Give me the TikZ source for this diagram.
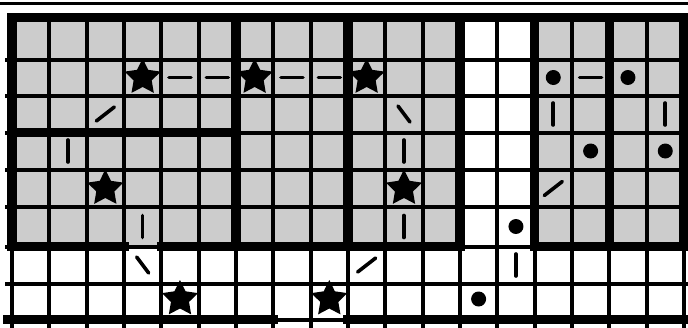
\documentclass[tikz,border=0pt]{standalone}
\usetikzlibrary{shapes.geometric}
\begin{document}
\begin{tikzpicture}[x=1pt,y=-1pt,
  thinline/.style={line width=4pt, line cap=rect},
  thickline/.style={line width=9.5pt, line cap=rect},
  shade/.style={fill=black!20},
  sym/.style={line width=3.6pt, line cap=round},
  starsym/.style={star, star points=5, star point ratio=2.0, fill=black, draw=none, minimum size=38pt, inner sep=0pt},
  dotsym/.style={circle, fill=black, draw=none, minimum size=15pt, inner sep=0pt}]
\useasboundingbox (0,0) rectangle (688,327);
\fill[white] (0,0) rectangle (688,327);
% helper macros for positions
\def\X#1{12+37.33*(#1)}
\def\CX#1{12+37.33*(#1-0.5)}
% row line positions
\def\Ya{17.5}\def\Yb{59.5}\def\Yc{95.5}\def\Yd{132.5}\def\Ye{170}\def\Yf{207}\def\Yg{246.5}\def\Yh{283.5}\def\Yi{319.5}
% page rule
\draw[line width=2.6pt] (0,3.5) -- (688,3.5);
% shaded regions
\fill[shade] ({\X{0}},\Ya) rectangle ({\X{12}},\Yg);
\fill[shade] ({\X{14}},\Ya) rectangle ({\X{18}},\Yg);
% thin horizontal lines
\foreach \yy in {\Yb,\Yc,\Yd,\Ye,\Yf,\Yg,\Yh,\Yi}
  \draw[thinline] (7,\yy) -- (688,\yy);
% thin vertical lines
\foreach \k in {0,...,18}
  \draw[thinline] ({\X{\k}},\Ya) -- ({\X{\k}},330);
% thick vertical borders
\foreach \k in {0,6,9,12,14,16,18}
  \draw[thickline] ({\X{\k}},\Ya) -- ({\X{\k}},\Yg);
% thick horizontal borders
\draw[thickline] ({\X{0}},\Ya) -- (690,\Ya);
\draw[thickline] ({\X{0}},\Yd) -- ({\X{6}},\Yd);
\draw[thickline] ({\X{0}},\Yg) -- ({\X{3}},\Yg);
\draw[thickline] ({\X{4}},\Yg) -- ({\X{12}},\Yg);
\draw[thickline] ({\X{14}},\Yg) -- (690,\Yg);
\draw[thickline] (8,\Yi) -- ({\X{7}},\Yi);
\draw[thickline] ({\X{9}},\Yi) -- (690,\Yi);
% row centres
\def\Ra{38.5}\def\Rb{77.5}\def\Rc{114}\def\Rd{151}\def\Re{188.5}\def\Rf{226.5}\def\Rg{265}\def\Rh{299}
% stars
\node[starsym] (s1) at ({\CX{4}},\Rb) {};
\node[starsym] (s2) at ({\CX{7}},\Rb) {};
\node[starsym] (s3) at ({\CX{10}},\Rb) {};
\node[starsym] (s4) at ({\CX{3}},\Re) {};
\node[starsym] (s5) at ({\CX{11}},\Re) {};
\node[starsym] (s6) at ({\CX{5}},\Rh) {};
\node[starsym] (s7) at ({\CX{9}},\Rh) {};
% dots
\node[dotsym] (d1) at ({\CX{15}},\Rb) {};
\node[dotsym] (d2) at ({\CX{17}},\Rb) {};
\node[dotsym] (d3) at ({\CX{16}},\Rd) {};
\node[dotsym] (d4) at ({\CX{18}},\Rd) {};
\node[dotsym] (d5) at ({\CX{14}},\Rf) {};
\node[dotsym] (d6) at ({\CX{13}},\Rh) {};
% horizontal dashes
\foreach \c in {5,6,8,9,16}
  \draw[sym] ({\CX{\c}-11},\Rb) -- ({\CX{\c}+11},\Rb);
% vertical bars
\foreach \c/\r in {2/\Rd, 4/\Rf, 11/\Rd, 11/\Rf, 15/\Rc, 18/\Rc, 14/\Rg}
  \draw[sym] ({\CX{\c}},\r-11) -- ({\CX{\c}},\r+11);
% slashes /
\foreach \c/\r in {3/\Rc, 10/\Rg, 15/\Re}
  \draw[sym] ({\CX{\c}-9},\r+7) -- ({\CX{\c}+9},\r-7);
% backslashes
\foreach \c/\r in {11/\Rc, 4/\Rg}
  \draw[sym] ({\CX{\c}-6},\r-8) -- ({\CX{\c}+6},\r+8);
\end{tikzpicture}
\end{document}
